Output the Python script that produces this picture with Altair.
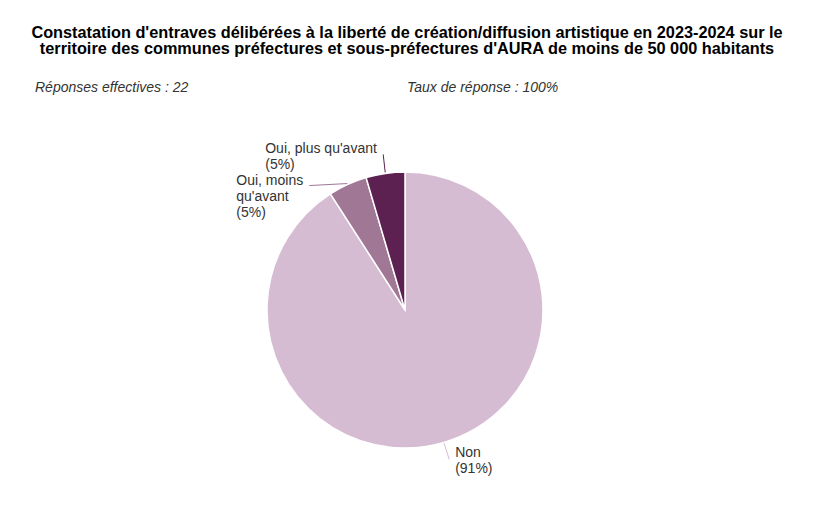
import altair as alt
import pandas as pd

# ---- data ----
categories = ["Non", "Oui, moins qu'avant", "Oui, plus qu'avant"]
values = [20, 1, 1]
display_labels = ["Non", "Oui, moins\nqu'avant", "Oui, plus qu'avant"]
colors = ["#d6bcd3", "#a17796", "#5c2150"]

title_lines = [
    "Constatation d'entraves délibérées à la liberté de création/diffusion artistique en 2023-2024 sur le",
    "territoire des communes préfectures et sous-préfectures d'AURA de moins de 50 000 habitants",
]
response_rate = "100%"

# ---- layout (offsets for leaders / labels) ----
leader_dx = [5, -38, -2]
leader_dy = [16, 2, -18]
text_dx = [6, -73, -118]
text_dy = [-6, -5, -5]

CX, CY, R = 405, 310, 138

df = pd.DataFrame({
    "category": categories,
    "value": values,
    "label": display_labels,
    "order": list(range(len(categories))),
    "ldx": leader_dx, "ldy": leader_dy,
    "tdx": text_dx, "tdy": text_dy,
})

color = alt.Color("category:N", scale=alt.Scale(domain=categories, range=colors), legend=None)

base = alt.Chart(df)

arcs = base.mark_arc(outerRadius=R, stroke="white", strokeWidth=1.5).encode(
    theta=alt.Theta("value:Q", stack=True),
    order=alt.Order("order:Q"),
    color=color,
    x=alt.value(CX), y=alt.value(CY),
)

geo = base.transform_joinaggregate(
    total="sum(value)"
).transform_window(
    cum="sum(value)", sort=[alt.SortField("order")]
).transform_calculate(
    ang=f"(datum.cum - datum.value/2) / datum.total * 2 * PI",
).transform_calculate(
    sx=f"{CX} + {R + 1} * sin(datum.ang)",
    sy=f"{CY} - {R + 1} * cos(datum.ang)",
).transform_calculate(
    ex="datum.sx + datum.ldx",
    ey="datum.sy + datum.ldy",
).transform_calculate(
    tx="datum.ex + datum.tdx",
    ty="datum.ey + datum.tdy",
    txt="datum.label + '\\n(' + format(datum.value / datum.total, '.0%') + ')'",
)

leaders = geo.mark_rule(strokeWidth=1).encode(
    x=alt.X("sx:Q", scale=None, axis=None),
    y=alt.Y("sy:Q", scale=None, axis=None),
    x2="ex:Q", y2="ey:Q",
    color=color,
)

labels = geo.mark_text(
    align="left", baseline="middle", lineBreak="\n", fontSize=14, lineHeight=16,
    font="Liberation Sans", color="#333333",
).encode(
    x=alt.X("tx:Q", scale=None, axis=None),
    y=alt.Y("ty:Q", scale=None, axis=None),
    text="txt:N",
)

title = alt.Chart(pd.DataFrame({"t": ["\n".join(title_lines)]})).mark_text(
    align="center", baseline="middle", lineBreak="\n", fontSize=16.3, fontWeight="bold",
    lineHeight=16.5, font="Liberation Sans", color="#000000",
).encode(text="t:N", x=alt.value(407), y=alt.value(32.5))

n_resp = sum(values)
sub = alt.Chart(pd.DataFrame({
    "t": [f"Réponses effectives : {n_resp}", f"Taux de réponse : {response_rate}"],
    "px": [35, 407],
})).mark_text(
    align="left", baseline="middle", fontSize=14, fontStyle="italic",
    font="Liberation Sans", color="#333333",
).encode(
    text="t:N",
    x=alt.X("px:Q", scale=None, axis=None),
    y=alt.value(88),
)

chart = alt.layer(arcs, leaders, labels, title, sub).properties(
    width=816, height=521, autosize="none", padding=0,
).configure_view(stroke=None).resolve_scale(color="shared")

chart.save("out.html", embed_options={"renderer": "svg", "actions": False})
